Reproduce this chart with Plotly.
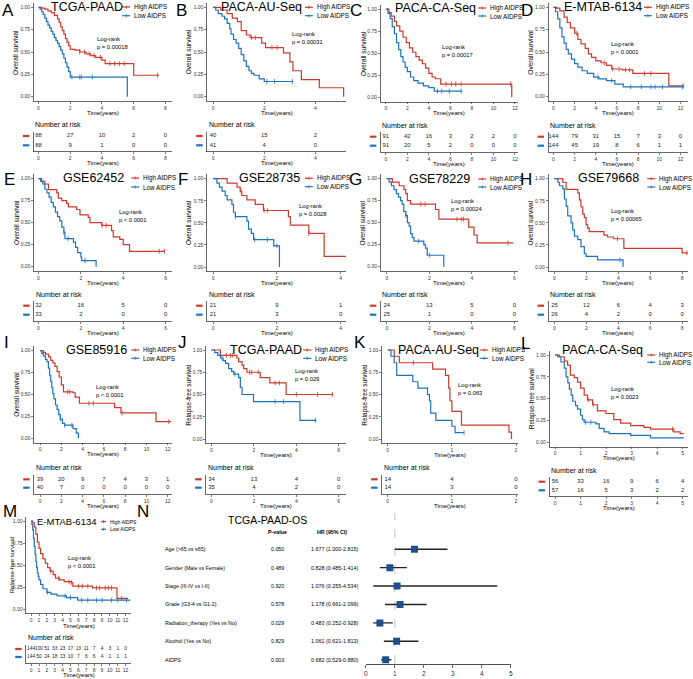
import plotly.graph_objects as go

W, H = 693, 679
RED = "#CB3A2C"
BLUE = "#1E73BE"
NAVY = "#1F4E8A"
FN = "Liberation Sans, Arial, sans-serif"

# ---------------- KM data (time, survival) ----------------
A_hi_t = [0, 0.2, 0.4, 0.6, 0.8, 1.0, 1.2, 1.3, 1.4, 1.5, 1.6, 1.7, 1.8, 1.9, 2.0, 2.3, 2.6, 3.0, 3.3, 3.6, 4.0, 4.2, 6.0, 7.6]
A_hi_s = [1, 0.99, 0.98, 0.96, 0.94, 0.91, 0.87, 0.83, 0.78, 0.74, 0.70, 0.65, 0.61, 0.57, 0.53, 0.52, 0.50, 0.48, 0.46, 0.44, 0.41, 0.37, 0.24, 0.24]
A_hi_c = [2.6, 2.9, 3.2, 3.5, 3.9, 4.5, 4.8, 5.1, 5.4, 7.5]
A_lo_t = [0, 0.1, 0.2, 0.3, 0.4, 0.5, 0.6, 0.7, 0.8, 0.9, 1.0, 1.1, 1.2, 1.3, 1.4, 1.5, 1.6, 1.7, 1.8, 1.9, 2.0, 5.6]
A_lo_s = [1, 0.98, 0.95, 0.92, 0.88, 0.84, 0.80, 0.77, 0.73, 0.70, 0.66, 0.63, 0.60, 0.56, 0.52, 0.48, 0.43, 0.38, 0.33, 0.28, 0.22, 0.0]
A_lo_c = [2.1, 2.6, 2.7, 3.4]

B_hi_t = [0, 0.3, 0.55, 0.75, 0.95, 1.1, 1.3, 1.45, 1.9, 2.05, 2.75, 3.0, 3.12, 3.45, 4.15, 5.1]
B_hi_s = [1, 0.97, 0.93, 0.88, 0.84, 0.74, 0.69, 0.66, 0.60, 0.55, 0.49, 0.39, 0.29, 0.19, 0.10, 0.0]
B_hi_c = [1.5, 1.65, 2.3, 2.5]
B_lo_t = [0, 0.1, 0.2, 0.35, 0.45, 0.55, 0.65, 0.7, 0.8, 0.9, 1.0, 1.1, 1.2, 1.3, 1.4, 1.5, 1.6, 1.8, 2.0, 3.13]
B_lo_s = [1, 0.97, 0.93, 0.90, 0.87, 0.82, 0.76, 0.70, 0.64, 0.60, 0.54, 0.47, 0.40, 0.34, 0.29, 0.26, 0.24, 0.20, 0.17, 0.17]
B_lo_c = [2.1, 2.4, 3.1]

C_hi_t = [0, 0.3, 0.5, 0.8, 1.0, 1.3, 1.6, 1.9, 2.2, 2.5, 2.8, 3.1, 3.4, 3.7, 4.0, 4.3, 4.6, 5.1, 11.7]
C_hi_s = [1, 0.96, 0.92, 0.86, 0.81, 0.75, 0.68, 0.62, 0.56, 0.51, 0.46, 0.42, 0.38, 0.33, 0.27, 0.23, 0.21, 0.15, 0.0]
C_hi_c = [5.6, 6.1, 6.5, 7.0, 11.6]
C_lo_t = [0, 0.2, 0.4, 0.6, 0.8, 1.0, 1.2, 1.4, 1.6, 1.8, 2.0, 2.3, 2.6, 3.0, 3.5, 4.0, 4.5, 7.1]
C_lo_s = [1, 0.95, 0.89, 0.80, 0.72, 0.62, 0.54, 0.46, 0.40, 0.34, 0.29, 0.23, 0.19, 0.16, 0.13, 0.11, 0.07, 0.07]
C_lo_c = [4.8, 5.2, 5.9, 7.0]

D_hi_t = [0, 0.3, 0.6, 1.0, 1.3, 1.6, 2.0, 2.3, 2.6, 3.0, 3.3, 3.6, 4.0, 4.5, 5.0, 5.5, 6.5, 7.5, 10.9, 12.3]
D_hi_s = [1, 0.99, 0.96, 0.89, 0.83, 0.77, 0.71, 0.64, 0.59, 0.54, 0.48, 0.44, 0.40, 0.38, 0.35, 0.31, 0.30, 0.26, 0.12, 0.12]
D_hi_c = [2.2, 4.8, 5.6, 6.2, 6.8, 7.2, 8.6, 9.2, 12.3]
D_lo_t = [0, 0.2, 0.4, 0.6, 0.8, 1.0, 1.2, 1.4, 1.7, 2.0, 2.3, 2.7, 3.2, 3.8, 4.3, 5.0, 5.8, 6.6, 12.2]
D_lo_s = [1, 0.95, 0.87, 0.77, 0.67, 0.60, 0.53, 0.48, 0.42, 0.37, 0.33, 0.29, 0.26, 0.22, 0.20, 0.18, 0.14, 0.11, 0.11]
D_lo_c = [4.2, 5.5, 7.3, 8.3, 9.2, 9.6, 10.3, 12.2]

E_hi_t = [0, 0.15, 0.3, 0.47, 0.86, 0.94, 1.1, 1.33, 1.41, 1.8, 1.96, 2.35, 2.43, 2.98, 3.45, 3.53, 3.84, 4.0, 4.3, 5.95]
E_hi_s = [1, 0.97, 0.94, 0.875, 0.84, 0.78, 0.75, 0.72, 0.68, 0.65, 0.59, 0.56, 0.50, 0.47, 0.41, 0.34, 0.31, 0.25, 0.175, 0.175]
E_hi_c = [3.0, 3.2, 5.7, 5.95]
E_lo_t = [0, 0.1, 0.2, 0.3, 0.4, 0.5, 0.6, 0.7, 0.8, 0.9, 1.0, 1.1, 1.2, 1.25, 1.65, 1.75, 1.85, 2.0, 2.04, 2.72]
E_lo_s = [1, 0.97, 0.94, 0.88, 0.84, 0.79, 0.73, 0.68, 0.62, 0.57, 0.52, 0.45, 0.39, 0.32, 0.28, 0.22, 0.16, 0.11, 0.07, 0.0]
E_lo_c = [1.2, 1.4, 2.2]

F_hi_t = [0, 0.44, 0.75, 0.85, 0.9, 1.06, 1.32, 1.58, 2.36, 2.42, 3.0, 3.48, 4.18]
F_hi_s = [1, 0.95, 0.905, 0.855, 0.81, 0.76, 0.71, 0.64, 0.57, 0.475, 0.38, 0.12, 0.12]
F_hi_c = [0.88, 1.6, 1.7, 3.0]
F_lo_t = [0, 0.12, 0.2, 0.28, 0.38, 0.44, 0.59, 0.64, 0.7, 1.06, 1.11, 1.2, 1.27, 1.9, 2.08]
F_lo_s = [1, 0.95, 0.905, 0.86, 0.81, 0.76, 0.71, 0.62, 0.57, 0.52, 0.43, 0.38, 0.31, 0.24, 0.0]
F_lo_c = [0.7, 1.3, 1.7, 2.0]

G_hi_t = [0, 0.26, 0.58, 0.81, 0.89, 0.97, 1.12, 1.85, 2.29, 2.45, 3.85, 4.1, 4.25, 5.95]
G_hi_s = [1, 0.96, 0.92, 0.875, 0.83, 0.75, 0.71, 0.71, 0.65, 0.54, 0.45, 0.36, 0.27, 0.27]
G_hi_c = [1.6, 1.8, 3.3, 3.5, 3.6, 5.7]
G_lo_t = [0, 0.11, 0.22, 0.34, 0.45, 0.55, 0.65, 0.72, 0.8, 0.9, 0.97, 1.05, 1.12, 1.2, 1.28, 1.74, 1.82, 1.9, 2.68]
G_lo_s = [1, 0.96, 0.92, 0.875, 0.83, 0.79, 0.75, 0.71, 0.625, 0.58, 0.50, 0.46, 0.375, 0.33, 0.29, 0.25, 0.21, 0.13, 0.0]
G_lo_c = [0.9, 1.5, 2.0]

H_hi_t = [0, 0.52, 0.73, 1.46, 1.56, 1.66, 1.77, 1.87, 1.98, 2.08, 2.18, 3.1, 3.33, 3.7, 4.35, 8.0, 8.4]
H_hi_s = [1, 0.96, 0.88, 0.84, 0.76, 0.68, 0.60, 0.56, 0.48, 0.44, 0.40, 0.36, 0.34, 0.32, 0.21, 0.16, 0.16]
H_hi_c = [3.95, 8.3]
H_lo_t = [0, 0.21, 0.31, 0.52, 0.62, 0.73, 0.83, 1.04, 1.14, 1.25, 1.46, 1.66, 1.87, 1.98, 2.7, 4.3]
H_lo_s = [1, 0.96, 0.92, 0.885, 0.77, 0.69, 0.58, 0.50, 0.42, 0.35, 0.31, 0.23, 0.15, 0.12, 0.08, 0.0]
H_lo_c = [4.1]

I_hi_t = [0, 0.3, 0.5, 0.8, 1.0, 1.2, 1.4, 1.6, 1.8, 2.0, 2.2, 3.1, 3.3, 3.7, 7.0, 7.6, 10.9, 12.3]
I_hi_s = [1, 0.98, 0.96, 0.93, 0.89, 0.86, 0.82, 0.76, 0.70, 0.61, 0.53, 0.52, 0.47, 0.40, 0.35, 0.29, 0.19, 0.19]
I_hi_c = [2.6, 2.8, 4.6, 5.0, 7.7, 12.1]
I_lo_t = [0, 0.16, 0.3, 0.5, 0.65, 0.78, 0.9, 1.0, 1.1, 1.2, 1.3, 1.45, 1.6, 1.75, 1.9, 2.1, 2.3, 3.1, 3.4, 3.6]
I_lo_s = [1, 0.97, 0.94, 0.90, 0.875, 0.80, 0.72, 0.65, 0.58, 0.51, 0.45, 0.38, 0.33, 0.27, 0.22, 0.17, 0.15, 0.11, 0.06, 0.0]
I_lo_c = [1.9, 2.3, 3.0]

J_hi_t = [0, 0.42, 1.2, 1.28, 1.44, 1.52, 1.67, 2.3, 2.75, 3.52, 5.73]
J_hi_s = [1, 0.94, 0.91, 0.87, 0.83, 0.79, 0.75, 0.69, 0.63, 0.50, 0.50]
J_hi_c = [0.7, 0.9, 1.0, 1.8, 1.9, 2.2, 3.0, 3.2, 4.0, 5.0, 5.7]
J_lo_t = [0, 0.15, 0.3, 0.42, 0.55, 0.66, 0.81, 0.95, 1.05, 1.28, 1.36, 1.44, 1.98, 4.17, 4.95]
J_lo_s = [1, 0.97, 0.94, 0.91, 0.88, 0.85, 0.79, 0.76, 0.73, 0.69, 0.58, 0.50, 0.42, 0.21, 0.21]
J_lo_c = [0.5, 1.1, 3.0, 3.4, 4.9]

K_hi_t = [0, 0.1, 0.18, 0.7, 0.9, 0.95, 0.97, 1.0, 1.15, 1.89, 1.93]
K_hi_s = [1, 0.93, 0.857, 0.786, 0.714, 0.571, 0.43, 0.31, 0.155, 0.077, 0.0]
K_hi_c = [0.4]
K_lo_t = [0, 0.05, 0.1, 0.14, 0.39, 0.47, 0.62, 0.65, 0.67, 0.75, 1.0, 1.05, 1.19]
K_lo_s = [1, 0.93, 0.857, 0.714, 0.643, 0.571, 0.50, 0.43, 0.29, 0.21, 0.143, 0.071, 0.071]
K_lo_c = [1.19]

L_hi_t = [0, 0.17, 0.36, 0.49, 0.6, 0.75, 0.88, 1.0, 1.14, 1.27, 1.47, 1.66, 1.99, 2.3, 2.57, 2.96, 3.48, 3.74, 4.65, 4.9, 5.04]
L_hi_s = [1, 0.98, 0.93, 0.885, 0.77, 0.74, 0.69, 0.62, 0.54, 0.485, 0.43, 0.36, 0.33, 0.26, 0.22, 0.19, 0.17, 0.15, 0.12, 0.10, 0.10]
L_hi_c = [1.3, 1.5, 4.6]
L_lo_t = [0, 0.1, 0.23, 0.36, 0.43, 0.5, 0.56, 0.63, 0.69, 0.8, 0.88, 1.0, 1.07, 1.14, 1.6, 1.73, 1.92, 2.12, 2.96, 3.74, 5.04]
L_lo_s = [1, 0.98, 0.92, 0.85, 0.75, 0.68, 0.61, 0.54, 0.47, 0.42, 0.38, 0.31, 0.26, 0.23, 0.21, 0.16, 0.12, 0.10, 0.08, 0.05, 0.05]
L_lo_c = [1.2, 1.4]

M_hi_t = [0, 0.2, 0.4, 0.6, 0.8, 1.0, 1.2, 1.5, 1.8, 2.1, 2.4, 2.8, 3.1, 3.6, 4.2, 5.1, 5.3, 7.8, 10.9, 12.3]
M_hi_s = [1, 0.98, 0.93, 0.85, 0.76, 0.69, 0.63, 0.57, 0.52, 0.47, 0.43, 0.39, 0.35, 0.33, 0.31, 0.30, 0.26, 0.24, 0.12, 0.12]
M_hi_c = [2.5, 3.5, 4.8, 5.1, 6.0, 6.5, 7.2, 8.3, 8.7, 9.4, 9.8, 10.2, 11.5]
M_lo_t = [0, 0.1, 0.2, 0.3, 0.4, 0.5, 0.6, 0.7, 0.8, 0.9, 1.0, 1.2, 1.5, 2.0, 2.5, 3.3, 4.5, 5.9, 12.5]
M_lo_s = [1, 0.96, 0.90, 0.80, 0.71, 0.62, 0.54, 0.47, 0.41, 0.37, 0.33, 0.28, 0.23, 0.19, 0.17, 0.15, 0.13, 0.10, 0.09]
M_lo_c = [2.1, 4.3, 5.0, 6.4, 7.2, 8.3, 9.0, 10.2, 11.0, 12.1]

# ---------------- numbers at risk ----------------
A_rt = [0, 2, 4, 6, 8];  A_rh = [88, 27, 10, 2, 0];  A_rl = [88, 9, 1, 0, 0]
B_rt = [0, 2, 4];        B_rh = [40, 15, 2];          B_rl = [41, 4, 0]
C_rt = [0, 2, 4, 6, 8, 10, 12]; C_rh = [91, 42, 16, 3, 2, 2, 0]; C_rl = [91, 20, 5, 2, 0, 0, 0]
D_rt = [0, 2, 4, 6, 8, 10, 12]; D_rh = [144, 79, 31, 15, 7, 3, 0]; D_rl = [144, 45, 19, 8, 6, 1, 1]
E_rt = [0, 2, 4, 6];     E_rh = [32, 16, 5, 0];       E_rl = [33, 2, 0, 0]
F_rt = [0, 2, 4];        F_rh = [21, 9, 1];           F_rl = [21, 3, 0]
G_rt = [0, 2, 4, 6];     G_rh = [24, 13, 5, 0];       G_rl = [25, 1, 0, 0]
H_rt = [0, 2, 4, 6, 8];  H_rh = [25, 12, 6, 4, 3];    H_rl = [26, 4, 2, 0, 0]
I_rt = [0, 2, 4, 6, 8, 10, 12]; I_rh = [39, 20, 9, 7, 4, 3, 1]; I_rl = [40, 7, 0, 0, 0, 0, 0]
J_rt = [0, 2, 4, 6];     J_rh = [34, 13, 4, 0];       J_rl = [35, 4, 2, 0]
K_rt = [0, 1, 2];        K_rh = [14, 4, 0];           K_rl = [14, 3, 0]
L_rt = [0, 1, 2, 3, 4, 5]; L_rh = [56, 33, 16, 9, 6, 4]; L_rl = [57, 16, 5, 3, 2, 2]
M_rt = [0, 1, 2, 3, 4, 5, 6, 7, 8, 9, 10, 11, 12]
M_rh = [144, 100, 51, 33, 23, 17, 13, 11, 7, 4, 3, 1, 0]
M_rl = [144, 50, 24, 18, 13, 10, 7, 6, 6, 4, 1, 1, 1]

# ---------------- forest data ----------------
F_labels = ["Age (>65 vs \u226465)", "Gender (Male vs Female)", "Stage (III-IV vs I-II)",
            "Grade (G3-4 vs G1-2)", "Radiation_therapy (Yes vs No)", "Alcohol (Yes vs No)", "AIDPS"]
F_pval = ["0.050", "0.489", "0.920", "0.578", "0.029", "0.829", "0.003"]
F_hr = [1.677, 0.828, 1.076, 1.178, 0.483, 1.061, 0.682]
F_lo = [1.000, 0.485, 0.255, 0.661, 0.252, 0.621, 0.529]
F_hi = [2.815, 1.414, 4.534, 2.099, 0.928, 1.813, 0.880]
F_row = [7, 6, 5, 4, 3, 2, 1]

# ---------------- panel layout (pixel geometry) ----------------
OS = "Overall survival"
RFS = "Relapse-free survival"
panels = [
    dict(L="A", title="TCGA-PAAD", yt=OS, p="p = 0.00018", lr=(3.55, 0.6),
         axL=32, axR=171, x0=36.7, pxu=15.96, y100=7.3, y000=96.7, rh=136, rl=145.3,
         let=(6, 0), tt=(85, 7.5), leg=(131, 7, 15.7)),
    dict(L="B", title="PACA-AU-Seq", yt=OS, p="p = 0.00031", lr=(3.0, 0.655),
         axL=206.3, axR=346, x0=212.3, pxu=25.75, y100=7.3, y000=96.7, rh=136, rl=145.3,
         let=(181, 0), tt=(261, 7.5), leg=(314.7, 7.3, 15.7)),
    dict(L="C", title="PACA-CA-Seq", yt=OS, p="p = 0.00017", lr=(5.08, 0.53),
         axL=381, axR=519, x0=386, pxu=10.83, y100=9, y000=97.3, rh=136.7, rl=145.7,
         let=(356, 0), tt=(436, 8.5), leg=(489, 8, 16)),
    dict(L="D", title="E-MTAB-6134", yt=OS, p="p < 0.0001", lr=(5.27, 0.545),
         axL=549.7, axR=690, x0=554.7, pxu=10.64, y100=7.3, y000=96.7, rh=136.7, rl=145.7,
         let=(528, 0), tt=(604, 7.5), leg=(655.7, 7.3, 15.7)),
    dict(L="E", title="GSE62452", yt=OS, p="p < 0.0001", lr=(3.73, 0.575),
         axL=32.3, axR=171, x0=36.7, pxu=21.3, y100=178.7, y000=266.7, rh=305.7, rl=314.7,
         let=(8, 168.5), tt=(92, 178), leg=(140, 178, 187)),
    dict(L="F", title="GSE28735", yt=OS, p="p = 0.0028", lr=(2.62, 0.645),
         axL=206.3, axR=346, x0=212.3, pxu=32.1, y100=178.7, y000=267, rh=305.7, rl=314.7,
         let=(182, 168.5), tt=(269, 178), leg=(314.7, 178.3, 186.7)),
    dict(L="G", title="GSE78229", yt=OS, p="p = 0.00024", lr=(2.91, 0.70),
         axL=381, axR=519, x0=387, pxu=21.4, y100=178.7, y000=266.7, rh=305.7, rl=314.7,
         let=(356, 168.5), tt=(440, 179), leg=(489, 179, 187)),
    dict(L="H", title="GSE79668", yt=OS, p="p = 0.00065", lr=(3.43, 0.585),
         axL=549.7, axR=690, x0=555.7, pxu=16.04, y100=178.7, y000=267, rh=305.7, rl=314.7,
         let=(527, 168.5), tt=(610, 178.5), leg=(659, 178.7, 187)),
    dict(L="I", title="GSE85916", yt=OS, p="p < 0.0001", lr=(5.08, 0.545),
         axL=32.3, axR=171, x0=38.3, pxu=10.7, y100=350.7, y000=438.3, rh=479.3, rl=487.7,
         let=(4.5, 332), tt=(95, 350), leg=(140, 350, 358.3)),
    dict(L="J", title="TCGA-PAAD", yt=RFS, p="p = 0.029", lr=(3.86, 0.715),
         axL=205.3, axR=346, x0=210.7, pxu=21.33, y100=350, y000=439, rh=479.3, rl=487.7,
         let=(182, 332), tt=(266, 350), leg=(313, 350, 358.3)),
    dict(L="K", title="PACA-AU-Seq", yt=RFS, p="p = 0.063", lr=(1.06, 0.567),
         axL=382.3, axR=519, x0=388, pxu=64.5, y100=350, y000=439, rh=479.3, rl=487.7,
         let=(360, 332), tt=(439, 350), leg=(491, 350, 358.3)),
    dict(L="L", title="PACA-CA-Seq", yt=RFS, p="p = 0.0023", lr=(2.12, 0.57),
         axL=550.7, axR=690, x0=556.3, pxu=25.67, y100=355, y000=442.3, rh=481.7, rl=490.3,
         let=(527, 333), tt=(604, 350), leg=(659, 355, 362.3)),
    dict(L="M", title="E-MTAB-6134", yt=RFS, p="p < 0.0001", lr=(4.42, 0.535),
         axL=24.3, axR=130, x0=29.3, pxu=7.92, y100=521, y000=609, rh=649, rl=657,
         let=(8, 501), tt=(65, 521), leg=(106.7, 521.7, 529.3), small=True),
]
DATA = {
    "A": (A_hi_t, A_hi_s, A_hi_c, A_lo_t, A_lo_s, A_lo_c, A_rt, A_rh, A_rl),
    "B": (B_hi_t, B_hi_s, B_hi_c, B_lo_t, B_lo_s, B_lo_c, B_rt, B_rh, B_rl),
    "C": (C_hi_t, C_hi_s, C_hi_c, C_lo_t, C_lo_s, C_lo_c, C_rt, C_rh, C_rl),
    "D": (D_hi_t, D_hi_s, D_hi_c, D_lo_t, D_lo_s, D_lo_c, D_rt, D_rh, D_rl),
    "E": (E_hi_t, E_hi_s, E_hi_c, E_lo_t, E_lo_s, E_lo_c, E_rt, E_rh, E_rl),
    "F": (F_hi_t, F_hi_s, F_hi_c, F_lo_t, F_lo_s, F_lo_c, F_rt, F_rh, F_rl),
    "G": (G_hi_t, G_hi_s, G_hi_c, G_lo_t, G_lo_s, G_lo_c, G_rt, G_rh, G_rl),
    "H": (H_hi_t, H_hi_s, H_hi_c, H_lo_t, H_lo_s, H_lo_c, H_rt, H_rh, H_rl),
    "I": (I_hi_t, I_hi_s, I_hi_c, I_lo_t, I_lo_s, I_lo_c, I_rt, I_rh, I_rl),
    "J": (J_hi_t, J_hi_s, J_hi_c, J_lo_t, J_lo_s, J_lo_c, J_rt, J_rh, J_rl),
    "K": (K_hi_t, K_hi_s, K_hi_c, K_lo_t, K_lo_s, K_lo_c, K_rt, K_rh, K_rl),
    "L": (L_hi_t, L_hi_s, L_hi_c, L_lo_t, L_lo_s, L_lo_c, L_rt, L_rh, L_rl),
    "M": (M_hi_t, M_hi_s, M_hi_c, M_lo_t, M_lo_s, M_lo_c, M_rt, M_rh, M_rl),
}


def X(px):
    return px / W


def Y(py):
    return 1 - py / H


def axn(i):
    return "" if i == 1 else str(i)


def step_at(ts, ss, t):
    v = ss[0]
    for ti, si in zip(ts, ss):
        if ti <= t:
            v = si
        else:
            break
    return v


fig = go.Figure()
ann, shp, lay = [], [], {}


def txt(x, y, s, size, xa="center", ya="middle", angle=0, color="black", xref="paper", yref="paper", fam=FN, pad=1):
    ann.append(dict(x=x, y=y, xref=xref, yref=yref, text=s, showarrow=False, xanchor=xa, yanchor=ya,
                    textangle=angle, align="left", borderpad=pad, font=dict(family=fam, size=size, color=color)))


def seg(x0, x1, y0, y1, color, width):
    shp.append(dict(type="line", xref="paper", yref="paper", x0=X(x0), x1=X(x1), y0=Y(y0), y1=Y(y1),
                    line=dict(color=color, width=width)))


AXC = "#262626"
idx = 0
for P in panels:
    idx += 1
    k = idx
    idx += 1
    r = idx
    hi_t, hi_s, hi_c, lo_t, lo_s, lo_c, rt, rhv, rlv = DATA[P["L"]]
    small = P.get("small", False)
    axL, axR, x0, pxu = P["axL"], P["axR"], P["x0"], P["pxu"]
    y100, y000 = P["y100"], P["y000"]
    xr = [(axL - x0) / pxu, (axR - x0) / pxu]
    hgt = y000 - y100
    top, bot = y100 - 0.05 * hgt, y000 + 0.05 * hgt
    tfs = 5.0
    cx = dict(domain=[X(axL), X(axR)], range=xr, tickvals=rt, ticks="outside", ticklen=2, tickwidth=0.6,
              tickcolor=AXC, showline=True, linecolor=AXC, linewidth=0.7, showgrid=False, zeroline=False,
              tickfont=dict(family=FN, size=tfs, color="#333"), fixedrange=True)
    lay["xaxis" + axn(k)] = dict(cx, anchor="y" + axn(k))
    lay["yaxis" + axn(k)] = dict(domain=[Y(bot), Y(top)], range=[-0.05, 1.05], anchor="x" + axn(k),
                                 tickvals=[0, 0.25, 0.5, 0.75, 1],
                                 ticktext=["0.00", "0.25", "0.50", "0.75", "1.00"],
                                 ticks="outside", ticklen=2, tickwidth=0.6, tickcolor=AXC,
                                 showline=True, linecolor=AXC, linewidth=0.7, showgrid=False,
                                 zeroline=False, tickfont=dict(family=FN, size=tfs, color="#333"))
    # risk table axes
    rh, rl = P["rh"], P["rl"]
    unit = rl - rh
    rtop, rbot = rh - 4.5, rl + 6.3
    lay["xaxis" + axn(r)] = dict(cx, anchor="y" + axn(r))
    lay["yaxis" + axn(r)] = dict(domain=[Y(rbot), Y(rtop)], range=[-(rbot - rl) / unit, 1 + (rh - rtop) / unit],
                                 anchor="x" + axn(r), showline=True, linecolor=AXC, linewidth=0.7,
                                 ticks="", showticklabels=False, showgrid=False, zeroline=False)
    xk, yk = "x" + axn(k), "y" + axn(k)
    xr_, yr_ = "x" + axn(r), "y" + axn(r)
    for t, s, c, col in [(hi_t, hi_s, hi_c, RED), (lo_t, lo_s, lo_c, BLUE)]:
        fig.add_trace(go.Scatter(x=t, y=s, mode="lines", line=dict(shape="hv", color=col, width=1.2),
                                 xaxis=xk, yaxis=yk, hoverinfo="skip"))
        fig.add_trace(go.Scatter(x=c, y=[step_at(t, s, ci) for ci in c], mode="markers",
                                 marker=dict(symbol="line-ns", size=3.5, color=col, line=dict(color=col, width=0.8)),
                                 xaxis=xk, yaxis=yk, hoverinfo="skip"))
    for vals, yv in [(rhv, 1), (rlv, 0)]:
        fig.add_trace(go.Scatter(x=rt, y=[yv] * len(rt), mode="text", text=[str(v) for v in vals],
                                 textfont=dict(family=FN, size=4.9 if small else 5.9, color="#222"),
                                 xaxis=xr_, yaxis=yr_, cliponaxis=False, hoverinfo="skip"))
    # texts
    txt(X(P["let"][0]), Y(P["let"][1]), P["L"], 17, ya="top", pad=0)
    txt(X(P["tt"][0]), Y(P["tt"][1]), P["title"], 9.5 if small else 12.5)
    lx, ly1, ly2 = P["leg"]
    lfs = 5.0 if small else 6.3
    ll = 7 if small else 10
    for yy, col, lab in [(ly1, RED, "High AIDPS"), (ly2, BLUE, "Low AIDPS")]:
        seg(lx - ll, lx - 2, yy, yy, col, 1.2)
        mid = lx - 2 - (ll - 2) / 2
        seg(mid, mid, yy - 1.6, yy + 1.6, col, 0.8)
        txt(X(lx), Y(yy), lab, lfs, xa="left")
    txt(P["lr"][0], P["lr"][1], "Log-rank<br>" + P["p"], 5.8, xa="left", xref=xk, yref=yk)
    txt(X(axL - (14 if small else 18)), Y((y100 + y000) / 2), P["yt"], 6 if small else 6.5, angle=-90)
    cxm = X((axL + axR) / 2)
    txt(cxm, Y(y000 + (17 if small else 16)), "Time(years)", 6.0)
    txt(X(axL - 0.5), Y(rh - 11.5), "Number at risk", 7.0, xa="left")
    txt(cxm, Y(rl + 18), "Time(years)", 6.0)
    for yy, col in [(rh, RED), (rl, BLUE)]:
        seg(axL - 11, axL - 4.5, yy, yy, col, 2.2)

# ---------------- forest plot ----------------
idx += 1
f = idx
fx, fy = "x" + axn(f), "y" + axn(f)
lay["xaxis" + axn(f)] = dict(domain=[X(366), X(511.7)], range=[0, 5], anchor=fy, tickvals=[0, 1, 2, 3, 4, 5],
                             ticks="outside", ticklen=3, tickwidth=0.7, tickcolor=AXC, showline=True,
                             linecolor=AXC, linewidth=0.8, showgrid=False, zeroline=False,
                             tickfont=dict(family=FN, size=6.5, color="#333"))
lay["yaxis" + axn(f)] = dict(domain=[Y(664), Y(513)], range=[0.766, 8.97], anchor=fx, visible=False)
shp.append(dict(type="line", xref=fx, yref=fy, x0=1, x1=1, y0=0.766, y1=8.97,
                line=dict(color="#b5b5b5", width=0.8, dash="dash"), layer="below"))
cx_, cy_ = [], []
for lo, hi, rw in zip(F_lo, F_hi, F_row):
    cx_ += [lo, hi, None]
    cy_ += [rw, rw, None]
fig.add_trace(go.Scatter(x=cx_, y=cy_, mode="lines", line=dict(color="#222", width=1.4),
                         xaxis=fx, yaxis=fy, hoverinfo="skip"))
fig.add_trace(go.Scatter(x=F_hr, y=F_row, mode="markers", marker=dict(symbol="square", size=7, color=NAVY),
                         xaxis=fx, yaxis=fy, hoverinfo="skip"))
txt(X(142), Y(501), "N", 17, ya="top", pad=0)
txt(X(267.5), Y(520), "TCGA-PAAD-OS", 10.5)
txt(X(277), Y(531.7), "<b>P-value</b>", 5.3)
txt(X(332), Y(531.7), "<b>HR (95% CI)</b>", 5.3)
for lab, pv, hr, lo, hi, rw in zip(F_labels, F_pval, F_hr, F_lo, F_hi, F_row):
    txt(X(161.7), rw, lab, 5.3, xa="left", yref=fy)
    txt(X(277), rw, pv, 5.3, yref=fy)
    txt(X(308.3), rw, "%.3f (%.3f-%.3f)" % (hr, lo, hi), 5.4, xa="left", yref=fy)

fig.update_layout(width=W, height=H, margin=dict(l=0, r=0, t=0, b=0), paper_bgcolor="white",
                  plot_bgcolor="white", showlegend=False, annotations=ann, shapes=shp,
                  font=dict(family=FN), **lay)
fig.write_html("out.html", config={"displayModeBar": False, "staticPlot": True},
               post_script="document.body.style.margin='0px';document.body.style.padding='0px';")
